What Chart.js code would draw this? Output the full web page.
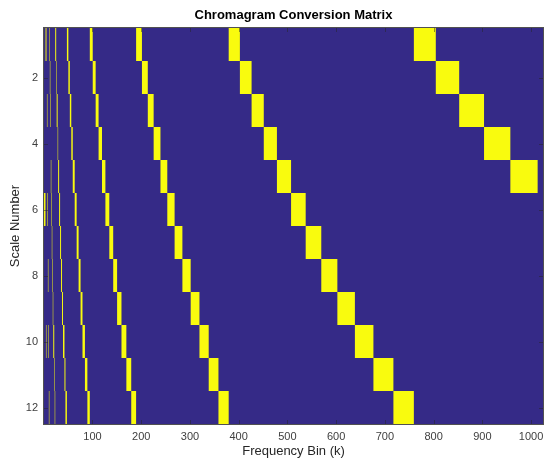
<!DOCTYPE html>
<html>
<head>
<meta charset="utf-8">
<title>Chromagram Conversion Matrix</title>
<script src="https://cdn.jsdelivr.net/npm/chart.js@4"></script>
<style>
  body { margin: 0; background: #fff; }
</style>
</head>
<body>
<canvas id="matrixChart" width="546" height="461"></canvas>
<script>
// rows of the matrix (y axis) and x tick labels
const scaleLabels = ['1', '2', '3', '4', '5', '6', '7', '8', '9', '10', '11', '12'];
const xTicks = [100, 200, 300, 400, 500, 600, 700, 800, 900, 1000];

// first and last frequency bin that is "on" (yellow) for each scale number,
// one array per octave band, null where the band has no bin for that scale
const band0 = [null, null, null, null, null, [1, 2], null, null, null, null, null, null];
const bandA = [[3, 3], null, null, null, null, [4, 4], null, null, null, [5, 5], null, null];
const bandB = [[6, 6], null, [7, 7], null, null, [8, 8], null, [9, 9], null, [10, 10], null, [11, 11]];
const bandC = [[12, 12], [13, 13], [14, 14], null, [15, 15], [16, 16], [17, 17], [18, 18], [19, 19], [20, 21], [22, 22], [23, 23]];
const bandD = [[24, 25], [26, 26], [27, 28], [29, 29], [30, 31], [32, 33], [34, 35], [36, 37], [38, 39], [40, 42], [43, 44], [45, 47]];
const bandE = [[48, 50], [51, 53], [54, 56], [57, 59], [60, 63], [64, 67], [68, 71], [72, 75], [76, 79], [80, 84], [85, 89], [90, 94]];
const bandF = [[95, 100], [101, 106], [107, 112], [113, 119], [120, 126], [127, 134], [135, 142], [143, 150], [151, 159], [160, 169], [170, 179], [180, 189]];
const bandG = [[190, 201], [202, 213], [214, 225], [226, 239], [240, 253], [254, 268], [269, 284], [285, 301], [302, 319], [320, 338], [339, 358], [359, 379]];
const bandH = [[380, 402], [403, 426], [427, 451], [452, 478], [479, 507], [508, 537], [538, 569], [570, 602], [603, 638], [639, 676], [677, 717], [718, 759]];
const bandI = [[760, 804], [805, 852], [853, 903], [904, 957], [958, 1013], null, null, null, null, null, null, null];

const bands = [band0, bandA, bandB, bandC, bandD, bandE, bandF, bandG, bandH, bandI];

const parulaLow = '#352A87';
const parulaHigh = '#F9FB0E';
const fontFamily = "'Liberation Sans', Arial, Helvetica, sans-serif";

// each band becomes one dataset of floating bars spanning the whole bin cell
const datasets = bands.map(band => ({
  data: band.map(r => (r ? [r[0] - 0.5, r[1] + 0.5] : null)),
  backgroundColor: parulaHigh,
  borderWidth: 0,
  inflateAmount: 0,
  barPercentage: 1,
  categoryPercentage: 1,
  grouped: false
}));

// blue image background, box and inward tick marks like the matlab axes
const matrixFrame = {
  id: 'matrixFrame',
  beforeDatasetsDraw(chart) {
    const { ctx, chartArea: a } = chart;
    ctx.save();
    ctx.fillStyle = parulaLow;
    ctx.fillRect(a.left, a.top, a.right - a.left, a.bottom - a.top);
    ctx.restore();
  },
  afterDatasetsDraw(chart) {
    const { ctx, chartArea: a, scales } = chart;
    ctx.save();
    ctx.lineWidth = 1;
    ctx.strokeStyle = 'rgba(38,38,38,0.5)';
    ctx.beginPath();
    xTicks.forEach(v => {
      const px = Math.round(scales.x.getPixelForValue(v)) + 0.5;
      ctx.moveTo(px, a.top); ctx.lineTo(px, a.top + 4);
      ctx.moveTo(px, a.bottom); ctx.lineTo(px, a.bottom - 4);
    });
    scaleLabels.forEach((l, i) => {
      if (i % 2 === 0) return;
      const py = Math.round(scales.y.getPixelForValue(i)) + 0.5;
      ctx.moveTo(a.left, py); ctx.lineTo(a.left + 4, py);
      ctx.moveTo(a.right, py); ctx.lineTo(a.right - 4, py);
    });
    ctx.stroke();
    ctx.strokeStyle = 'rgba(38,38,38,0.8)';
    ctx.strokeRect(a.left - 0.5, a.top - 0.5, a.right - a.left + 1, a.bottom - a.top + 1);
    ctx.restore();
  }
};

const ctx = document.getElementById('matrixChart').getContext('2d');
const chart = new Chart(ctx, {
  type: 'bar',
  data: { labels: scaleLabels, datasets: datasets },
  options: {
    indexAxis: 'y',
    responsive: false,
    animation: false,
    devicePixelRatio: 1,
    layout: { padding: { left: 0, right: 3, top: 0, bottom: 0 } },
    plugins: {
      legend: { display: false },
      tooltip: { enabled: false },
      title: {
        display: true,
        fullSize: false,
        text: 'Chromagram Conversion Matrix',
        color: '#000',
        font: { family: fontFamily, size: 13, weight: 'bold' },
        padding: { top: 8, bottom: 4.4 }
      }
    },
    scales: {
      x: {
        type: 'linear',
        min: 0.5,
        max: 1024.5,
        afterBuildTicks: s => { s.ticks = xTicks.map(v => ({ value: v })); },
        afterFit: s => { s.height = 37; s.paddingLeft = 0; s.paddingRight = 0; },
        grid: { display: false, drawTicks: false },
        border: { display: false },
        ticks: {
          autoSkip: false,
          maxRotation: 0,
          padding: 6,
          color: '#404040',
          font: { family: fontFamily, size: 11 },
          callback: v => String(v)
        },
        title: {
          display: true,
          text: 'Frequency Bin (k)',
          color: '#262626',
          font: { family: fontFamily, size: 13 },
          padding: { top: 0, bottom: 1.5 }
        }
      },
      y: {
        type: 'category',
        offset: true,
        afterFit: s => { s.width = 44; },
        grid: { display: false, drawTicks: false },
        border: { display: false },
        ticks: {
          autoSkip: false,
          padding: 6,
          color: '#404040',
          font: { family: fontFamily, size: 11 },
          callback: (v, i) => (i % 2 === 1 ? scaleLabels[i] : '')
        },
        title: {
          display: true,
          text: 'Scale Number',
          color: '#262626',
          font: { family: fontFamily, size: 13 },
          padding: { top: 8, bottom: 0 }
        }
      }
    }
  },
  plugins: [matrixFrame]
});
</script>
</body>
</html>
